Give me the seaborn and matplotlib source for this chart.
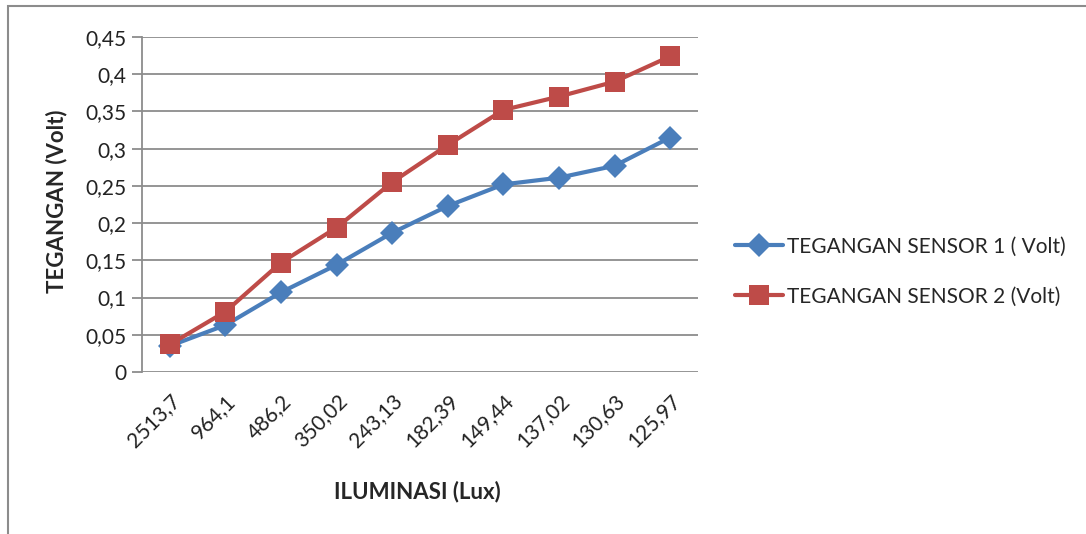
import matplotlib
matplotlib.use("Agg")
import matplotlib.pyplot as plt
import seaborn as sns
import pandas as pd
from matplotlib.patches import Rectangle

categories = ["2513,7", "964,1", "486,2", "350,02", "243,13", "182,39",
              "149,44", "137,02", "130,63", "125,97"]
sensor1 = [0.035, 0.063, 0.107, 0.144, 0.187, 0.223, 0.252, 0.261, 0.277, 0.315]
sensor2 = [0.037, 0.081, 0.147, 0.194, 0.255, 0.305, 0.352, 0.370, 0.390, 0.424]
series_names = ["TEGANGAN SENSOR 1 ( Volt)", "TEGANGAN SENSOR 2 (Volt)"]
yticks = [0, 0.05, 0.1, 0.15, 0.2, 0.25, 0.3, 0.35, 0.4, 0.45]
ytick_labels = ["0", "0,05", "0,1", "0,15", "0,2", "0,25", "0,3", "0,35", "0,4", "0,45"]

df = pd.DataFrame({
    "x": categories * 2,
    "y": sensor1 + sensor2,
    "series": [series_names[0]] * len(categories) + [series_names[1]] * len(categories),
})

sns.set_style("white")
plt.rcParams["font.family"] = ["Lato", "DejaVu Sans"]

fig = plt.figure(figsize=(10.86, 5.34), dpi=100)
ax = fig.add_axes([142 / 1086, 1 - 372 / 534, (698 - 142) / 1086, (372 - 37) / 534])

palette = {series_names[0]: "#4A7EBB", series_names[1]: "#BE4B48"}
markers = {series_names[0]: "D", series_names[1]: "s"}
sns.lineplot(data=df, x="x", y="y", hue="series", style="series",
             palette=palette, markers=markers, dashes=False, linewidth=3,
             markersize=12, markeredgewidth=0, ax=ax, sort=False)
for line in ax.get_lines():
    if line.get_marker() == "s":
        line.set_markersize(14)

ax.set_xlim(-0.5, 9.5)
ax.set_ylim(0, 0.45)
ax.set_yticks(yticks)
ax.set_yticklabels(ytick_labels, fontsize=15, color="#222222")
ax.set_xticks(range(len(categories)))
ax.set_xticklabels(categories, rotation=45, ha="right", rotation_mode="anchor",
                   fontsize=15, color="#222222")
ax.yaxis.grid(True, color="#8c8c8c", linewidth=1.3)
ax.set_axisbelow(True)
for s in ["top", "right", "bottom"]:
    ax.spines[s].set_visible(False)
ax.spines["left"].set_color("#8c8c8c")
ax.spines["left"].set_linewidth(1.3)
ax.tick_params(axis="y", which="major", left=True, length=7, width=1.3,
               color="#8c8c8c", pad=4)
ax.tick_params(axis="x", bottom=False, pad=10)

ax.set_xlabel("ILUMINASI (Lux)", fontsize=16, fontweight="bold")
ax.set_ylabel("TEGANGAN (Volt)", fontsize=16, fontweight="bold")
ax.xaxis.set_label_coords(0.496, -0.325)
ax.yaxis.set_label_coords(-0.135, 0.51)

leg = ax.legend(loc="center left", bbox_to_anchor=(1.066, 0.30), frameon=False,
                fontsize=15, handlelength=2.3, handletextpad=0.2, labelspacing=1.45,
                borderpad=0, borderaxespad=0)
for h in leg.legend_handles:
    h.set_linewidth(3)

fig.patches.append(Rectangle((8 / 1086, -0.05), 1.1, 1 - 6 / 534 + 0.05,
                             transform=fig.transFigure, fill=False,
                             edgecolor="#8c8c8c", linewidth=1.5))

fig.savefig("out.png", dpi=100, facecolor="white")
